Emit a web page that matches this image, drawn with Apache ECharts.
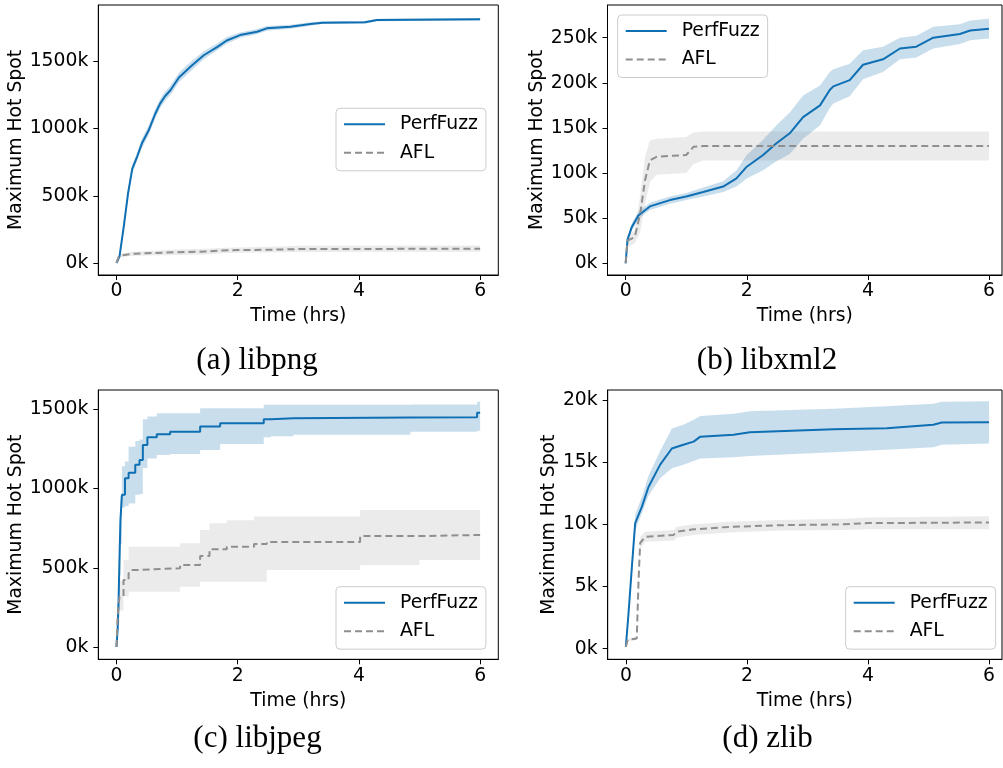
<!DOCTYPE html>
<html>
<head>
<meta charset="utf-8">
<script src="https://cdn.jsdelivr.net/npm/echarts@6/dist/echarts.min.js"></script>
<style>
html,body{margin:0;padding:0;background:#fff;}
#chart{width:1003px;height:768px;}
</style>
</head>
<body>
<div id="chart"></div>
<script>
// ---------- DATA (values in thousands, time in hours) ----------
const xTicks = [0, 2, 4, 6];
const captions = ['(a) libpng', '(b) libxml2', '(c) libjpeg', '(d) zlib'];
const seriesNames = ['PerfFuzz', 'AFL'];

// (a) libpng
const aPerfT     = [0, 0.05, 0.12, 0.19, 0.26, 0.34, 0.42, 0.53, 0.64, 0.72, 0.80, 0.89, 1.03, 1.22, 1.44, 1.66, 1.82, 2.04, 2.32, 2.48, 2.87, 3.2, 3.4, 4.1, 4.3, 6];
const aPerfMean  = [0, 50, 270, 515, 700, 790, 890, 985, 1110, 1185, 1240, 1285, 1380, 1460, 1545, 1605, 1655, 1695, 1720, 1745, 1757, 1777, 1787, 1790, 1807, 1812];
const aPerfLow   = [0, 35, 240, 480, 670, 760, 855, 950, 1075, 1150, 1205, 1250, 1345, 1425, 1515, 1580, 1630, 1675, 1702, 1728, 1742, 1765, 1777, 1780, 1798, 1803];
const aPerfHigh  = [0, 65, 300, 550, 730, 820, 925, 1020, 1145, 1220, 1275, 1320, 1415, 1495, 1575, 1632, 1680, 1715, 1740, 1762, 1772, 1790, 1798, 1800, 1817, 1822];
const aAflT      = [0, 0.04, 0.1, 0.25, 0.5, 1.0, 1.5, 1.7, 2.0, 2.7, 3.0, 6];
const aAflMean   = [0, 50, 58, 68, 73, 80, 85, 92, 96, 100, 104, 106];
const aAflLow    = [0, 38, 45, 52, 56, 60, 64, 72, 76, 80, 82, 84];
const aAflHigh   = [0, 62, 72, 84, 90, 100, 106, 112, 116, 122, 128, 130];
const aYTicks    = [0, 500, 1000, 1500];

// (b) libxml2
const bPerfT     = [0, 0.03, 0.1, 0.21, 0.4, 0.73, 1.0, 1.28, 1.61, 1.83, 2.0, 2.27, 2.49, 2.71, 2.93, 3.21, 3.37, 3.43, 3.7, 3.92, 4.25, 4.53, 4.8, 5.08, 5.52, 5.69, 6];
const bPerfMean  = [0, 26, 40, 53, 63, 70, 74, 79, 85, 94, 107, 120, 133, 144, 162, 175, 192, 196, 203, 220, 226, 238, 240, 250, 254, 258, 260];
const bPerfLow   = [0, 23, 36, 49, 59, 66, 70, 74, 79, 85, 94, 103, 113, 121, 138, 153, 172, 177, 185, 204, 212, 226, 228, 238, 243, 247, 249];
const bPerfHigh  = [0, 29, 44, 57, 67, 74, 78, 84, 91, 103, 120, 137, 153, 167, 186, 197, 212, 215, 221, 236, 240, 250, 252, 262, 265, 269, 271];
const bAflT      = [0, 0.03, 0.15, 0.24, 0.32, 0.40, 0.51, 1.0, 1.12, 1.28, 6];
const bAflMean   = [0, 25, 29, 55, 92, 114, 118, 120, 129, 130, 130];
const bAflLow    = [0, 18, 22, 35, 65, 90, 98, 100, 110, 114, 114];
const bAflHigh   = [0, 32, 36, 75, 118, 136, 138, 140, 145, 146, 146];
const bYTicks    = [0, 50, 100, 150, 200, 250];

// (c) libjpeg
const cPerfT     = [0, 0.02, 0.035, 0.05, 0.065, 0.09, 0.14, 0.2, 0.31, 0.38, 0.435, 0.51, 0.665, 0.885, 1.38, 1.71, 2.43, 2.55, 2.92, 4.85, 5.95, 6];
const cPerfMean  = [0, 120, 300, 560, 800, 960, 1065, 1100, 1150, 1180, 1275, 1324, 1343, 1359, 1391, 1412, 1437, 1443, 1448, 1450, 1479, 1479];
const cPerfLow   = [0, 90, 230, 450, 650, 880, 890, 905, 960, 965, 1130, 1190, 1212, 1218, 1243, 1281, 1323, 1330, 1340, 1359, 1365, 1365];
const cPerfHigh  = [0, 150, 380, 680, 950, 1140, 1170, 1264, 1300, 1310, 1437, 1454, 1475, 1475, 1506, 1506, 1528, 1528, 1528, 1530, 1548, 1548];
const cAflT      = [0, 0.02, 0.05, 0.116, 0.2, 0.226, 0.337, 1.05, 1.38, 1.535, 1.82, 2.27, 2.48, 4.02, 5.0, 6];
const cAflMean   = [0, 200, 318, 423, 465, 486, 497, 518, 574, 617, 633, 650, 663, 700, 707, 710];
const cAflLow    = [0, 140, 230, 318, 349, 349, 349, 381, 412, 412, 412, 412, 486, 518, 549, 549];
const cAflHigh   = [0, 260, 420, 549, 633, 633, 633, 654, 738, 781, 800, 823, 823, 865, 865, 865];
const cYTicks    = [0, 500, 1000, 1500];

// (d) zlib
const dPerfT     = [0, 0.044, 0.1, 0.154, 0.264, 0.374, 0.567, 0.76, 0.95, 1.12, 1.23, 1.78, 2.05, 3.43, 4.31, 5.08, 5.22, 6];
const dPerfMean  = [0.16, 2.85, 6.6, 10.1, 11.4, 13.0, 14.8, 16.1, 16.4, 16.65, 17.05, 17.2, 17.4, 17.65, 17.73, 18.0, 18.18, 18.2];
const dPerfLow   = [0.16, 2.5, 6.0, 9.5, 10.9, 12.3, 13.7, 14.5, 14.8, 15.1, 15.3, 15.4, 15.5, 15.8, 16.0, 16.2, 16.4, 16.5];
const dPerfHigh  = [0.16, 3.2, 7.2, 10.8, 12.2, 13.9, 15.9, 17.7, 18.0, 18.4, 18.7, 18.9, 19.1, 19.3, 19.5, 19.7, 19.85, 19.9];
const dAflT      = [0, 0.03, 0.18, 0.21, 0.236, 0.32, 0.79, 0.84, 1.12, 1.72, 2.55, 3.6, 4.0, 6];
const dAflMean   = [0.16, 0.7, 0.83, 5.5, 8.5, 9.0, 9.15, 9.4, 9.6, 9.8, 9.93, 10.0, 10.1, 10.15];
const dAflLow    = [0.16, 0.6, 0.7, 5.0, 8.0, 8.6, 8.7, 8.95, 9.15, 9.35, 9.5, 9.55, 9.6, 9.6];
const dAflHigh   = [0.16, 0.8, 0.95, 6.0, 9.0, 9.4, 9.55, 9.8, 10.0, 10.2, 10.35, 10.45, 10.55, 10.65];
const dYTicks    = [0, 5, 10, 15, 20];

// ---------- LAYOUT / STYLE ----------
const FONT = "'DejaVu Sans', sans-serif";
const FS = 18.8;
const BLUE = '#0f6fb3';
const BLUE_BAND = 'rgba(31,119,180,0.24)';
const GRAY = '#8f8f8f';
const GRAY_BAND = 'rgba(128,128,128,0.16)';

const panels = [
  { perf:[aPerfT,aPerfMean,aPerfLow,aPerfHigh], afl:[aAflT,aAflMean,aAflLow,aAflHigh], yTicks:aYTicks,
    grid:{left:98.3, top:5, width:400, height:270}, x:[-0.3,6.3], y:[-89.2,1918.7], nameGap:67,
    legend:{left:336, top:108.3}, cap:{x:257, y:361}, stepP:false, stepA:false },
  { perf:[bPerfT,bPerfMean,bPerfLow,bPerfHigh], afl:[bAflT,bAflMean,bAflLow,bAflHigh], yTicks:bYTicks,
    grid:{left:607.5, top:5, width:394.5, height:270}, x:[-0.3,6.215], y:[-13.0,286.2], nameGap:55,
    legend:{left:617.7, top:15}, cap:{x:767, y:361}, stepP:false, stepA:false },
  { perf:[cPerfT,cPerfMean,cPerfLow,cPerfHigh], afl:[cAflT,cAflMean,cAflLow,cAflHigh], yTicks:cYTicks,
    grid:{left:98.3, top:390, width:400, height:269.3}, x:[-0.3,6.3], y:[-77.6,1621.8], nameGap:67,
    legend:{left:336, top:586.7}, cap:{x:257.5, y:739}, stepP:'end', stepA:'end' },
  { perf:[dPerfT,dPerfMean,dPerfLow,dPerfHigh], afl:[dAflT,dAflMean,dAflLow,dAflHigh], yTicks:dYTicks,
    grid:{left:607.7, top:390, width:394.3, height:269.3}, x:[-0.3,6.215], y:[-0.85,20.80], nameGap:43,
    legend:{left:845.7, top:586.7}, cap:{x:767.5, y:739}, stepP:false, stepA:false }
];

const option = {
  backgroundColor:'#fff',
  animation:false,
  grid:[], xAxis:[], yAxis:[], series:[], legend:[], graphic:[]
};

function pairs(t, v){ return t.map((x,i)=>[x, v[i]]); }
function rows(t, lo, hi){ return t.map((x,i)=>[x, lo[i], hi[i]]); }

// band polygon drawn through the axis scales (api.coord)
function bandSeries(i, t, lo, hi, step, color){
  return {
    type:'custom', xAxisIndex:i, yAxisIndex:i, silent:true, z:1, clip:true,
    encode:{x:0, y:[1,2]},
    data:rows(t, lo, hi),
    renderItem:function(params, api){
      if (params.dataIndex !== 0) return null;
      const up = [], dn = [];
      for (let k = 0; k < t.length; k++){
        up.push(api.coord([t[k], hi[k]]));
        dn.push(api.coord([t[k], lo[k]]));
        if (step && k < t.length - 1){
          up.push(api.coord([t[k+1], hi[k]]));
          dn.push(api.coord([t[k+1], lo[k]]));
        }
      }
      const pts = up.concat(dn.reverse());
      return {type:'polygon', shape:{points:pts}, style:{fill:color, stroke:null}};
    }
  };
}

panels.forEach((p, i) => {
  option.grid.push(Object.assign({show:true, borderColor:'#000', borderWidth:1, backgroundColor:'transparent'}, p.grid));
  option.xAxis.push({
    type:'value', gridIndex:i, min:p.x[0], max:p.x[1],
    name:'Time (hrs)', nameLocation:'middle', nameGap:32,
    nameTextStyle:{fontFamily:FONT, fontSize:FS, color:'#000'},
    axisLine:{show:true, onZero:false, lineStyle:{color:'#000', width:1}},
    axisTick:{show:true, inside:false, length:5, customValues:xTicks, lineStyle:{color:'#000', width:1}},
    axisLabel:{show:true, customValues:xTicks, margin:7, fontFamily:FONT, fontSize:FS, color:'#000'},
    splitLine:{show:false}
  });
  option.yAxis.push({
    type:'value', gridIndex:i, min:p.y[0], max:p.y[1],
    name:'Maximum Hot Spot', nameLocation:'middle', nameGap:p.nameGap,
    nameTextStyle:{fontFamily:FONT, fontSize:FS, color:'#000'},
    axisLine:{show:true, onZero:false, lineStyle:{color:'#000', width:1}},
    axisTick:{show:true, inside:false, length:5, customValues:p.yTicks, lineStyle:{color:'#000', width:1}},
    axisLabel:{show:true, customValues:p.yTicks, margin:10, fontFamily:FONT, fontSize:FS, color:'#000',
               formatter:v => v + 'k'},
    splitLine:{show:false}
  });
  const [pt, pm, pl, ph] = p.perf;
  const [at, am, al, ah] = p.afl;
  option.series.push(bandSeries(i, pt, pl, ph, p.stepP, BLUE_BAND));
  option.series.push(bandSeries(i, at, al, ah, p.stepA, GRAY_BAND));
  option.series.push({type:'line', name:seriesNames[0], xAxisIndex:i, yAxisIndex:i, symbol:'none', silent:true,
    step:p.stepP, z:3, color:BLUE, lineStyle:{color:BLUE, width:2}, data:pairs(pt, pm)});
  option.series.push({type:'line', name:seriesNames[1], xAxisIndex:i, yAxisIndex:i, symbol:'none', silent:true,
    step:p.stepA, z:3, color:GRAY, lineStyle:{color:GRAY, width:2, type:[7,4]}, data:pairs(at, am)});
  option.legend.push({
    data:seriesNames, orient:'vertical', left:p.legend.left, top:p.legend.top,
    padding:[6,8,8,7], itemWidth:41, itemHeight:14, itemGap:8.5, selectedMode:false,
    itemStyle:{opacity:0},
    textStyle:{fontFamily:FONT, fontSize:FS, color:'#000', lineHeight:20, padding:[0,0,0,10]},
    borderColor:'#cccccc', borderWidth:1, borderRadius:4, backgroundColor:'rgba(255,255,255,0.8)', z:10
  });
  option.graphic.push({type:'text', x:p.cap.x, y:p.cap.y, silent:true,
    style:{text:captions[i], fill:'#000', font:"31px 'Liberation Serif', serif",
           align:'center', verticalAlign:'middle', textAlign:'center', textVerticalAlign:'middle'}});
});

const chart = echarts.init(document.getElementById('chart'), null, {renderer:'canvas'});
chart.setOption(option);
</script>
</body>
</html>
